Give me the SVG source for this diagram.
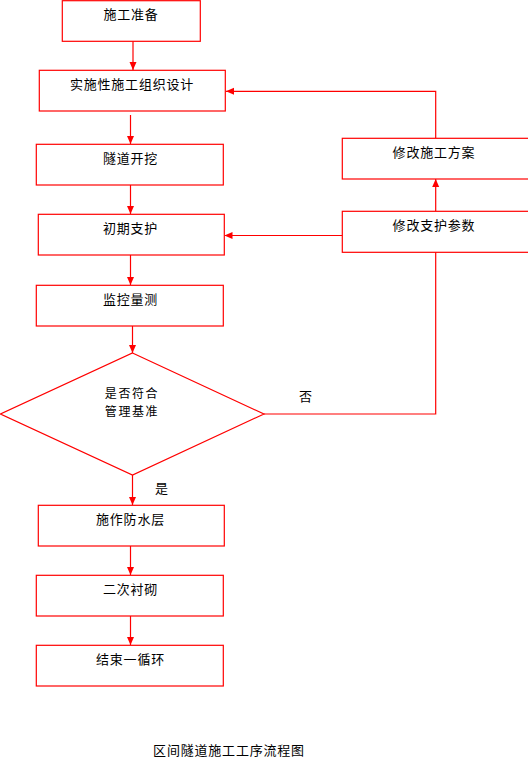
<svg xmlns="http://www.w3.org/2000/svg" width="528" height="778" viewBox="0 0 528 778">
<style>
.box{fill:#fff;stroke:#ff0000;stroke-width:1.2}
.ln{fill:none;stroke:#ff0000;stroke-width:1.2}
.t{font-family:"Noto Sans CJK SC","Noto Sans",sans-serif;font-size:13px;letter-spacing:0.8px;fill:#000;text-anchor:middle}
.s{font-size:12px;letter-spacing:1.6px}
</style>
<defs>
<marker id="ah" markerUnits="userSpaceOnUse" markerWidth="8" markerHeight="8" viewBox="0 0 8 8" refX="8" refY="4" orient="auto">
<path d="M0,0.5 L8,4 L0,7.5 Z" fill="#ff0000"/>
</marker>
</defs>
<rect width="528" height="778" fill="#fff"/>
<g id="connectors">
<line class="ln" x1="133" y1="41" x2="133" y2="70" marker-end="url(#ah)"/>
<line class="ln" x1="130.5" y1="115" x2="130.5" y2="144" marker-end="url(#ah)"/>
<line class="ln" x1="130.5" y1="185" x2="130.5" y2="214" marker-end="url(#ah)"/>
<line class="ln" x1="130.5" y1="255" x2="130.5" y2="285" marker-end="url(#ah)"/>
<line class="ln" x1="132.5" y1="326" x2="132.5" y2="353" marker-end="url(#ah)"/>
<line class="ln" x1="132.5" y1="475" x2="132.5" y2="505" marker-end="url(#ah)"/>
<line class="ln" x1="130.5" y1="546" x2="130.5" y2="575" marker-end="url(#ah)"/>
<line class="ln" x1="130.5" y1="616" x2="130.5" y2="645" marker-end="url(#ah)"/>
<polyline class="ln" points="435.7,138 435.7,91.3 226,91.3" marker-end="url(#ah)"/>
<line class="ln" x1="435.7" y1="211" x2="435.7" y2="179" marker-end="url(#ah)"/>
<line class="ln" x1="342.5" y1="235.5" x2="224.5" y2="235.5" marker-end="url(#ah)"/>
<polyline class="ln" points="435.7,252 435.7,414 264,414"/>
<text class="t" x="306" y="401">否</text>
<text class="t" x="162" y="493">是</text>
</g>
<g id="n1"><rect class="box" x="62.3" y="0.7" width="138" height="40.6"/><text class="t" x="131" y="19">施工准备</text></g>
<g id="n2"><rect class="box" x="39.3" y="70.3" width="186" height="40.7"/><text class="t" x="132" y="89">实施性施工组织设计</text></g>
<g id="n3"><rect class="box" x="36.3" y="144.3" width="187" height="40.7"/><text class="t" x="130.5" y="163">隧道开挖</text></g>
<g id="n4"><rect class="box" x="38.3" y="214.3" width="186" height="40.7"/><text class="t" x="130.5" y="233">初期支护</text></g>
<g id="n5"><rect class="box" x="36.3" y="285.3" width="187" height="40.7"/><text class="t" x="130.5" y="304">监控量测</text></g>
<g id="n6"><polygon class="box" points="132.5,353 264,414 132.5,475 0.5,414"/><text class="t s" x="132" y="398">是否符合</text><text class="t s" x="132" y="416">管理基准</text></g>
<g id="n7"><rect class="box" x="38.3" y="505.3" width="186" height="40.7"/><text class="t" x="130.5" y="524">施作防水层</text></g>
<g id="n8"><rect class="box" x="36.3" y="575.3" width="187" height="40.7"/><text class="t" x="130.5" y="594">二次衬砌</text></g>
<g id="n9"><rect class="box" x="36.3" y="645.3" width="187" height="40.7"/><text class="t" x="130.5" y="664">结束一循环</text></g>
<g id="n10"><rect class="box" x="342.3" y="138.3" width="200" height="40.7"/><text class="t" x="434" y="157">修改施工方案</text></g>
<g id="n11"><rect class="box" x="342.3" y="211.3" width="200" height="41"/><text class="t" x="434" y="230">修改支护参数</text></g>
<g id="caption"><text class="t" x="229" y="755">区间隧道施工工序流程图</text></g>
</svg>
